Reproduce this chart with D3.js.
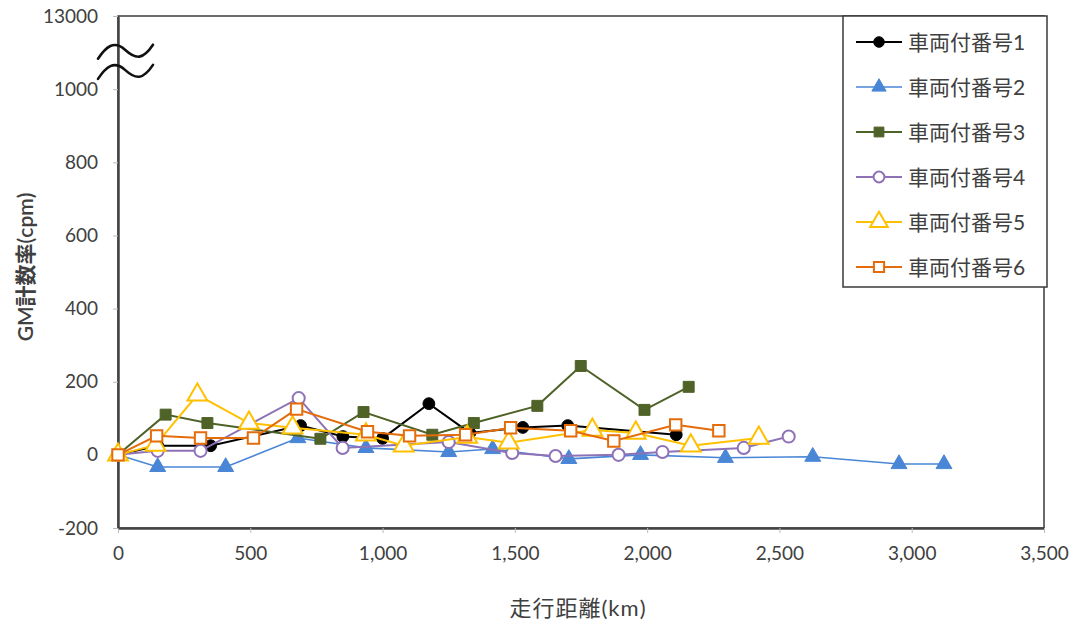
<!DOCTYPE html>
<html>
<head>
<meta charset="utf-8">
<script src="https://cdn.jsdelivr.net/npm/d3@7"></script>
<style>
  body { margin: 0; background: #fff; }
  svg text { font-family: Lato, "Noto Sans CJK JP", sans-serif; fill: #404040; }
</style>
</head>
<body>
<div id="chart"></div>
<script>
// 車両付番号ごとの走行距離(km)とGM計数率(cpm)
const dist1 = [0, 150, 350, 690, 850, 1000, 1175, 1330, 1530, 1700, 2110];
const gm1   = [0, 25, 25, 80, 50, 45, 140, 60, 75, 80, 55];

const dist2 = [0, 150, 407, 680, 937, 1250, 1416, 1704, 1975, 2296, 2626, 2952, 3122];
const gm2   = [0, -33, -33, 46, 19, 8, 16, -11, 0, -8, -5, -25, -25];

const dist3 = [0, 180, 338, 765, 928, 1188, 1345, 1585, 1749, 1990, 2157];
const gm3   = [0, 110, 87, 44, 117, 55, 87, 134, 243, 123, 186];

const dist4 = [0, 150, 312, 683, 849, 1250, 1490, 1654, 1892, 2058, 2365, 2535];
const gm4   = [0, 11, 11, 155, 19, 35, 5, -3, 0, 8, 19, 50];

const dist5 = [0, 142, 300, 495, 660, 937, 1080, 1320, 1477, 1793, 1957, 2165, 2422];
const gm5   = [0, 27, 164, 87, 74, 55, 25, 49, 33, 68, 60, 25, 46];

const dist6 = [0, 146, 312, 512, 675, 943, 1102, 1314, 1484, 1711, 1874, 2108, 2271];
const gm6   = [0, 52, 46, 46, 125, 63, 52, 55, 74, 66, 38, 82, 66];

const seriesNames = ['車両付番号1', '車両付番号2', '車両付番号3', '車両付番号4', '車両付番号5', '車両付番号6'];
const xTicks = [0, 500, 1000, 1500, 2000, 2500, 3000, 3500];
const yTicks = [-200, 0, 200, 400, 600, 800, 1000, 1200];
const yTopLabel = '13000';   // 軸の途中を省略して上端に表示

const styles = [
  {color: '#000000', shape: d3.symbolCircle,   size: 110, fill: true,  width: 2},
  {color: '#4a86d6', shape: d3.symbolTriangle, size: 110, fill: true,  width: 1.6},
  {color: '#4f6228', shape: d3.symbolSquare,   size: 120, fill: true,  width: 2},
  {color: '#8e72b8', shape: d3.symbolCircle,   size: 115, fill: false, width: 2},
  {color: '#ffc000', shape: d3.symbolTriangle, size: 170, fill: false, width: 2},
  {color: '#e46c0a', shape: d3.symbolSquare,   size: 130, fill: false, width: 2}
];

const series = [[dist1, gm1], [dist2, gm2], [dist3, gm3], [dist4, gm4], [dist5, gm5], [dist6, gm6]]
  .map(([xs, ys], i) => ({name: seriesNames[i], style: styles[i], pts: xs.map((x, j) => [x, ys[j]])}));

const width = 1077, height = 628;
const plot = {left: 118, right: 1044, top: 16, bottom: 528};

const svg = d3.select('#chart').append('svg')
  .attr('width', width)
  .attr('height', height);

const xScale = d3.scaleLinear().domain([0, 3500]).range([plot.left, plot.right]);
const yScale = d3.scaleLinear().domain([-200, 1200]).range([plot.bottom, plot.top]);

// plot frame
svg.append('rect')
  .attr('x', plot.left).attr('y', plot.top)
  .attr('width', plot.right - plot.left).attr('height', plot.bottom - plot.top)
  .attr('fill', 'none').attr('stroke', '#3a3a3a').attr('stroke-width', 1.5);

// axes
const xAxis = d3.axisBottom(xScale).tickValues(xTicks).tickSize(5).tickSizeOuter(0)
  .tickFormat(d3.format(','));
const xg = svg.append('g')
  .attr('transform', 'translate(0,' + plot.bottom + ')')
  .call(xAxis);
xg.select('.domain').attr('stroke', '#444').attr('stroke-width', 2.5);
xg.selectAll('.tick line').attr('stroke', '#bbb');
xg.selectAll('.tick text').attr('y', 25).attr('dy', '0.35em')
  .style('font-size', '19px').attr('fill', '#404040');

const yAxis = d3.axisLeft(yScale).tickValues(yTicks).tickSize(5).tickSizeOuter(0)
  .tickFormat(d => d === 1200 ? yTopLabel : String(d));
const yg = svg.append('g')
  .attr('transform', 'translate(' + plot.left + ',0)')
  .call(yAxis);
yg.select('.domain').attr('stroke', '#444').attr('stroke-width', 2.5);
yg.selectAll('.tick line').attr('stroke', '#bbb');
yg.selectAll('.tick text').attr('x', -20).style('font-size', '19px').attr('fill', '#404040');

// axis break mark
function breakPath(cx, cy) {
  const x0 = cx - 27;
  return 'M' + x0 + ',' + (cy + 8) +
    ' C' + (x0 + 8) + ',' + (cy - 4) + ' ' + (x0 + 16) + ',' + (cy - 11) + ' ' + (x0 + 27) + ',' + (cy - 1) +
    ' S' + (x0 + 45) + ',' + (cy + 9) + ' ' + (x0 + 55) + ',' + (cy - 6);
}
[1105, 1050].forEach(v => {
  svg.append('path')
    .attr('d', breakPath(plot.left + 7, yScale(v)))
    .attr('fill', 'none').attr('stroke', '#111').attr('stroke-width', 2.6)
    .attr('stroke-linecap', 'round');
});

// axis titles
svg.append('text')
  .attr('x', 578).attr('y', 616)
  .attr('text-anchor', 'middle')
  .style('font-size', '22px').style('letter-spacing', '1px')
  .text('走行距離(km)');

svg.append('text')
  .attr('transform', 'translate(33,267) rotate(-90)')
  .attr('text-anchor', 'middle')
  .style('font-size', '21px').style('font-weight', '600')
  .text('GM計数率(cpm)');

// series
const line = d3.line().x(d => xScale(d[0])).y(d => yScale(d[1]));

series.forEach(s => {
  const g = svg.append('g');
  g.append('path')
    .datum(s.pts)
    .attr('d', line)
    .attr('fill', 'none')
    .attr('stroke', s.style.color)
    .attr('stroke-width', s.style.width);
  g.selectAll('path.mark')
    .data(s.pts)
    .join('path')
    .attr('class', 'mark')
    .attr('d', d3.symbol().type(s.style.shape).size(s.style.size))
    .attr('transform', d => 'translate(' + xScale(d[0]) + ',' + yScale(d[1]) + ')')
    .attr('fill', s.style.fill ? s.style.color : '#fff')
    .attr('stroke', s.style.color)
    .attr('stroke-width', s.style.fill ? 1 : 2);
});

// legend
const legend = svg.append('g');
legend.append('rect')
  .attr('x', 843).attr('y', 16)
  .attr('width', 204).attr('height', 271)
  .attr('fill', '#fff').attr('stroke', '#3a3a3a').attr('stroke-width', 1.5);

series.forEach((s, i) => {
  const y = 42 + i * 45;
  const row = legend.append('g').attr('transform', 'translate(0,' + y + ')');
  row.append('line')
    .attr('x1', 856).attr('x2', 902)
    .attr('stroke', s.style.color).attr('stroke-width', s.style.width);
  row.append('path')
    .attr('d', d3.symbol().type(s.style.shape).size(s.style.size * 0.8))
    .attr('transform', 'translate(879,0)')
    .attr('fill', s.style.fill ? s.style.color : '#fff')
    .attr('stroke', s.style.color)
    .attr('stroke-width', s.style.fill ? 1 : 2);
  row.append('text')
    .attr('x', 908).attr('dy', '0.36em')
    .style('font-size', '21px')
    .text(s.name);
});
</script>
</body>
</html>
